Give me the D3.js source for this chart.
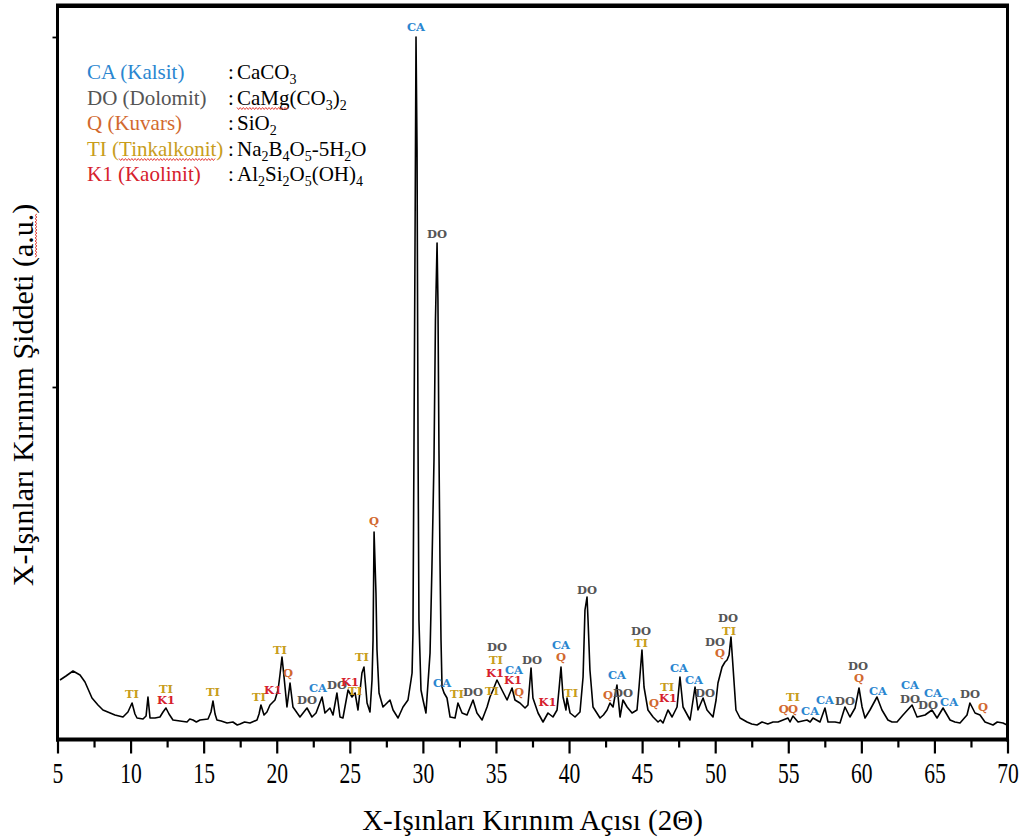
<!DOCTYPE html>
<html>
<head>
<meta charset="utf-8">
<script src="https://cdn.jsdelivr.net/npm/d3@7"></script>
<style>
  body { margin: 0; background: #fff; }
  svg { display: block; }
</style>
</head>
<body>
<div id="chart"></div>
<script>
// XRD pattern: [2theta (deg), intensity (a.u.)]
const pattern = [
  [5.17,114],[5.58,122],[6.06,132],[6.54,124],[6.88,110],[7.36,78],[7.77,64],[8.11,54],[8.93,44],[9.48,40],
  [9.82,50],[10.10,68],[10.30,46],[10.44,38],[10.85,36],[11.06,42],[11.19,80],[11.33,38],[11.67,38],[12.01,40],
  [12.22,50],[12.42,58],[12.63,46],[12.90,34],[13.38,32],[13.86,30],[14.05,36],[14.27,34],[14.50,30],[14.75,34],
  [15.30,36],[15.50,50],[15.64,72],[15.78,46],[15.91,34],[16.20,32],[16.60,28],[17.00,30],[17.30,24],[17.49,26],
  [17.80,30],[18.17,28],[18.65,34],[18.79,46],[18.92,64],[19.13,44],
  [19.33,50],[19.54,64],[19.88,74],[20.09,94],[20.22,124],[20.36,160],[20.50,120],[20.70,60],[20.91,108],[21.11,60],
  [21.59,40],[22.07,58],[22.41,40],[22.69,48],[23.10,80],[23.30,48],[23.64,58],[23.85,44],[24.12,88],[24.33,40],
  [24.53,38],[24.88,94],[25.15,80],[25.36,88],[25.56,54],[25.83,128],[25.97,140],[26.18,68],[26.38,50],[26.52,114],
  [26.59,194],[26.66,410],[26.79,288],[26.86,174],[27.00,88],[27.27,60],[27.75,74],[27.96,54],[28.30,38],[28.64,60],
  [28.98,74],[29.19,114],[29.26,128],[29.32,208],[29.39,574],[29.46,974],[29.53,1400],[29.60,1174],[29.67,574],[29.73,234],
  [29.87,94],[30.01,74],[30.21,48],[30.35,108],[30.49,168],[30.62,340],[30.76,554],[30.86,834],[30.97,988],[31.03,874],
  [31.10,574],[31.17,354],[31.24,194],[31.31,100],[31.45,88],[31.65,78],[31.86,40],[32.20,38],[32.40,68],[32.68,48],
  [33.02,44],[33.43,74],[33.70,48],[34.05,34],[34.39,60],[34.59,80],[34.80,94],[35.07,114],[35.41,94],[35.76,74],
  [36.10,98],[36.30,74],[36.64,68],[36.99,58],[37.19,64],[37.40,138],[37.53,78],[37.88,48],[38.22,30],[38.56,48],
  [38.90,40],[39.18,54],[39.31,94],[39.45,140],[39.59,80],[39.79,54],[39.86,78],[40.07,48],[40.41,40],[40.75,50],
  [40.96,120],[41.09,254],[41.23,280],[41.30,234],[41.43,134],[41.64,60],[42.12,38],[42.35,44],[42.60,54],[42.80,68],[43.01,60],
  [43.28,104],[43.49,40],[43.69,74],[43.97,60],[44.31,48],[44.65,54],[44.79,100],[44.99,174],[45.13,100],[45.40,54],
  [45.75,40],[46.09,30],[46.25,34],[46.43,28],[46.77,54],[47.05,40],[47.39,60],[47.59,120],[47.80,60],[48.28,34],[48.62,100],
  [48.82,54],[49.17,78],[49.44,54],[49.85,40],[50.06,74],[50.19,108],[50.47,140],[50.67,150],[50.81,154],[50.95,164],
  [51.08,200],[51.22,140],[51.42,54],[51.70,38],[52.18,30],[52.50,26],[52.86,24],[53.20,30],[53.60,26],[53.96,30],
  [54.30,30],[54.64,34],[54.98,38],[55.12,30],
  [55.32,42],[55.67,30],[56.28,34],[56.50,30],[56.69,38],[57.17,30],[57.51,58],[57.72,30],[58.20,30],[58.54,28],[58.88,60],
  [59.22,40],[59.57,58],[59.84,98],[60.05,60],[60.25,38],[60.59,54],[61.07,80],[61.41,54],[61.82,34],[62.10,30],[62.44,30],
  [62.85,44],[63.47,64],[63.81,40],[64.36,44],[64.83,54],[65.18,38],[65.59,58],[66.07,34],[66.40,30],[66.75,28],[67.23,44],
  [67.43,68],[67.78,48],[68.12,44],[68.46,30],[69.01,24],[69.30,30],[69.69,28],[69.97,24]
];

// peak markers: [phase, 2theta, level where the tag sits]
const peakLabels = [
  ["TI",10.10,86],["TI",12.42,96],["K1",12.42,74],["TI",15.64,90],["TI",18.79,80],
  ["K1",19.75,94],["TI",20.22,174],["Q",20.77,128],["DO",22.07,74],["CA",22.82,98],
  ["DO",24.12,104],["K1",25.02,110],["TI",25.36,92],["TI",25.83,160],["Q",26.66,432],
  ["CA",29.53,1420],["DO",30.97,1006],["CA",31.31,108],["TI",32.33,86],["DO",33.43,90],
  ["TI",34.73,92],["DO",35.07,180],["TI",35.00,154],["K1",34.93,128],["CA",36.23,134],
  ["K1",36.16,114],["Q",36.58,90],["DO",37.47,154],["K1",38.52,70],["CA",39.45,184],
  ["Q",39.45,160],["TI",40.14,88],["DO",41.23,294],["Q",42.67,84],["CA",43.28,124],
  ["DO",43.69,88],["DO",44.92,212],["TI",44.92,188],["Q",45.82,68],["TI",46.71,100],
  ["K1",46.77,78],["CA",47.52,138],["CA",48.55,114],["DO",49.30,88],["DO",49.99,190],
  ["Q",50.33,168],["DO",50.88,238],["TI",50.95,212],["Q",54.70,56],["Q",55.32,56],
  ["TI",55.32,80],["CA",56.49,52],["CA",57.51,74],["DO",58.88,72],["DO",59.77,142],
  ["Q",59.84,118],["CA",61.14,92],["CA",63.33,104],["DO",63.33,76],["CA",64.90,88],
  ["DO",64.56,64],["CA",66.00,70],["DO",67.43,86],["Q",68.32,60]
];

const legendPhases = ["CA", "DO", "Q", "TI", "K1"];
const legendNames = ["CA (Kalsit)", "DO (Dolomit)", "Q (Kuvars)", "TI (Tinkalkonit)", "K1 (Kaolinit)"];
const legendFormulas = ["CaCO3", "CaMg(CO3)2", "SiO2", "Na2B4O5-5H2O", "Al2Si2O5(OH)4"];

const xTicks = [5, 10, 15, 20, 25, 30, 35, 40, 45, 50, 55, 60, 65, 70];
const xMinorTicks = [7.5, 12.5, 17.5, 22.5, 27.5, 32.5, 37.5, 42.5, 47.5, 52.5, 57.5, 62.5, 67.5];
const yTicks = [700, 1400];

const phaseColor = {CA: "#2a86d0", DO: "#555555", Q: "#d2692e", TI: "#c89d1c", K1: "#d6202c"};

const W = 1029, H = 838;
const svg = d3.select("#chart").append("svg")
    .attr("width", W)
    .attr("height", H);

const x = d3.scaleLinear().domain([5, 70]).range([57.5, 1007.5]);
const y = d3.scaleLinear().domain([0, 1462]).range([737, 6]);

// x axis
const xAxis = svg.append("g")
    .attr("transform", "translate(0,739.5)")
    .call(d3.axisBottom(x).tickValues(xTicks).tickSize(14).tickPadding(8).tickFormat(d3.format("d")));
xAxis.select(".domain").remove();
xAxis.selectAll("line").attr("stroke", "#000").attr("stroke-width", 2.2);
xAxis.selectAll("text")
    .attr("fill", "#000")
    .style("font-family", "'Liberation Serif', 'Times New Roman', serif")
    .style("font-size", "30px")
    .attr("transform", "scale(0.72,1)");

const xMinor = svg.append("g")
    .attr("transform", "translate(0,739.5)")
    .call(d3.axisBottom(x).tickValues(xMinorTicks).tickSize(8).tickFormat(""));
xMinor.select(".domain").remove();
xMinor.selectAll("line").attr("stroke", "#000").attr("stroke-width", 2.2);

// y axis: ticks only
const yAxis = svg.append("g")
    .attr("transform", "translate(57.5,0)")
    .call(d3.axisLeft(y).tickValues(yTicks).tickSize(5).tickFormat(""));
yAxis.select(".domain").remove();
yAxis.selectAll("line").attr("stroke", "#000").attr("stroke-width", 1.8);

// frame
svg.append("line").attr("x1", 56).attr("x2", 1009).attr("y1", 5.7).attr("y2", 5.7)
    .attr("stroke", "#000").attr("stroke-width", 4.5);
svg.append("line").attr("x1", 56).attr("x2", 1009).attr("y1", 739.5).attr("y2", 739.5)
    .attr("stroke", "#000").attr("stroke-width", 4);
svg.append("line").attr("x1", 57.5).attr("x2", 57.5).attr("y1", 4).attr("y2", 741.5)
    .attr("stroke", "#000").attr("stroke-width", 3);
svg.append("line").attr("x1", 1007.5).attr("x2", 1007.5).attr("y1", 4).attr("y2", 741.5)
    .attr("stroke", "#000").attr("stroke-width", 3);

// pattern
const line = d3.line()
    .x(d => x(d[0]))
    .y(d => y(d[1]));

svg.append("path")
    .datum(pattern)
    .attr("fill", "none")
    .attr("stroke", "#000")
    .attr("stroke-width", 1.6)
    .attr("stroke-linejoin", "round")
    .attr("d", line);

// peak tags
svg.append("g").selectAll("text")
    .data(peakLabels)
    .join("text")
    .attr("x", d => x(d[1]))
    .attr("y", d => y(d[2]))
    .attr("text-anchor", "middle")
    .attr("dominant-baseline", "central")
    .attr("fill", d => phaseColor[d[0]])
    .style("font-family", "'DejaVu Serif', serif")
    .style("font-weight", "bold")
    .style("font-size", "11.5px")
    .text(d => d[0]);

// wavy spell-check underline
function squiggle(parent, x0, x1, yy) {
    const pts = [];
    let up = true;
    for (let px = x0; px <= x1; px += 1.6) {
        pts.push([px, yy + (up ? -1 : 1)]);
        up = !up;
    }
    parent.append("path")
        .attr("d", d3.line()(pts))
        .attr("fill", "none")
        .attr("stroke", "#e0302a")
        .attr("stroke-width", 0.9);
}

// legend
const legend = svg.append("g");
const rowY = d => 79 + d * 25.5;
const serif = "'Liberation Serif', 'Times New Roman', serif";

legendNames.forEach((name, i) => {
    const t = legend.append("text")
        .attr("x", 87).attr("y", rowY(i))
        .attr("fill", phaseColor[legendPhases[i]])
        .style("font-family", serif)
        .style("font-size", "21px")
        .text(name);
    legend.append("text")
        .attr("x", 228).attr("y", rowY(i))
        .attr("fill", "#000")
        .style("font-family", serif)
        .style("font-size", "21px")
        .text(":");
    const f = legend.append("text")
        .attr("x", 237).attr("y", rowY(i))
        .attr("fill", "#000")
        .style("font-family", serif)
        .style("font-size", "21px");
    // digits right after a letter or bracket become subscripts
    const runs = [];
    const src = legendFormulas[i];
    for (let k = 0; k < src.length; k++) {
        const ch = src[k];
        const isSub = /\d/.test(ch) && k > 0 && /[A-Za-z)\d]/.test(src[k - 1]) &&
            !(/\d/.test(src[k - 1]) && !runs[runs.length - 1].sub);
        if (runs.length && runs[runs.length - 1].sub === isSub) runs[runs.length - 1].s += ch;
        else runs.push({s: ch, sub: isSub});
    }
    let shifted = false;
    runs.forEach(r => {
        const ts = f.append("tspan").text(r.s);
        if (r.sub) { ts.attr("dy", 5).style("font-size", "14px"); shifted = true; }
        else if (shifted) { ts.attr("dy", -5); shifted = false; }
    });

    if (legendPhases[i] === "TI") {
        const n = t.node();
        squiggle(legend, n.getStartPositionOfChar(4).x, n.getEndPositionOfChar(14).x, rowY(i) + 4);
    }
    if (legendPhases[i] === "DO") {
        const n = f.node();
        squiggle(legend, n.getStartPositionOfChar(0).x, n.getEndPositionOfChar(3).x, rowY(i) + 4);
    }
});

// axis titles
svg.append("text")
    .attr("x", x(37.5)).attr("y", 830)
    .attr("text-anchor", "middle")
    .attr("fill", "#000")
    .style("font-family", serif)
    .style("font-size", "29px")
    .text("X-Işınları Kırınım Açısı (2Θ)");

const yTitleG = svg.append("g").attr("transform", "translate(33,395) rotate(-90)");
const yTitle = yTitleG.append("text")
    .attr("x", 0).attr("y", 0)
    .attr("text-anchor", "middle")
    .attr("fill", "#000")
    .style("font-family", serif)
    .style("font-size", "30px")
    .text("X-Işınları Kırınım Şiddeti (a.u.)");
{
    const n = yTitle.node();
    const len = n.getNumberOfChars();
    squiggle(yTitleG, n.getStartPositionOfChar(len - 5).x, n.getEndPositionOfChar(len - 2).x, 3);
}
</script>
</body>
</html>
